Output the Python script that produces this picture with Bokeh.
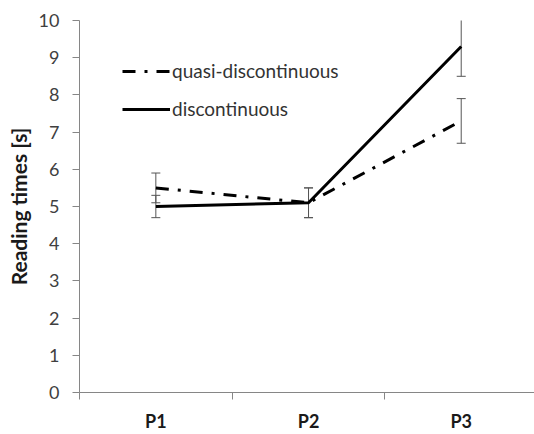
from bokeh.plotting import figure
from bokeh.models import (Range1d, FixedTicker, Whisker, TeeHead, ColumnDataSource,
                          Legend, LegendItem)
from bokeh.embed import file_html
from bokeh.resources import INLINE

categories = ["P1", "P2", "P3"]
quasi = [5.5, 5.1, 7.3]
quasi_err = [0.4, 0.4, 0.6]
disc = [5.0, 5.1, 9.3]
disc_err = [0.3, 0.4, 0.8]
y_ticks = list(range(0, 11))

xs = [i + 0.5 for i in range(len(categories))]

FONT = "Lato"
AXIS_GRAY = "#868686"

p = figure(width=534, height=434, output_backend="svg", toolbar_location=None,
           x_range=Range1d(0, 2.98), y_range=Range1d(0, 10),
           min_border_left=79, min_border_right=0, min_border_top=20, min_border_bottom=41)
p.outline_line_color = None
p.xgrid.visible = False
p.ygrid.visible = False
p.background_fill_color = "white"
p.border_fill_color = "white"

# error bars
for vals, errs in ((quasi, quasi_err), (disc, disc_err)):
    src = ColumnDataSource(dict(x=xs,
                                upper=[v + e for v, e in zip(vals, errs)],
                                lower=[v - e for v, e in zip(vals, errs)]))
    w = Whisker(base="x", upper="upper", lower="lower", source=src,
                line_color="#555555", line_width=1,
                upper_head=TeeHead(size=9, line_color="#555555", line_width=1),
                lower_head=TeeHead(size=9, line_color="#555555", line_width=1),
                level="underlay")
    p.add_layout(w)

r_q = p.line(xs, quasi, line_color="black", line_width=3, line_dash="13 9 3 9")
r_d = p.line(xs, disc, line_color="black", line_width=3)

legend = Legend(items=[LegendItem(label="quasi-discontinuous", renderers=[r_q]),
                       LegendItem(label="discontinuous", renderers=[r_d])],
                location=(43, 272), glyph_width=48, glyph_height=20, label_height=20,
                spacing=15, padding=0, margin=0, label_standoff=2,
                border_line_alpha=0, background_fill_alpha=0,
                label_text_font=FONT, label_text_font_size="19px",
                label_text_color="#333333")
p.add_layout(legend)

# y axis
ya = p.yaxis[0]
ya.ticker = FixedTicker(ticks=y_ticks)
ya.axis_line_color = AXIS_GRAY
ya.major_tick_line_color = AXIS_GRAY
ya.major_tick_out = 7
ya.major_tick_in = 0
ya.minor_tick_line_color = None
ya.major_label_standoff = 13
ya.major_label_text_font = FONT
ya.major_label_text_font_size = "18px"
ya.major_label_text_color = "#404040"
ya.axis_label = "Reading times [s]"
ya.axis_label_text_font = FONT
ya.axis_label_text_font_style = "bold"
ya.axis_label_text_font_size = "21px"
ya.axis_label_text_color = "#1a1a1a"
ya.axis_label_standoff = 5

# x axis
xa = p.xaxis[0]
xa.ticker = FixedTicker(ticks=xs, minor_ticks=[0, 1, 2, 3])
xa.axis_line_color = AXIS_GRAY
xa.major_tick_line_color = None
xa.major_tick_out = 0
xa.major_tick_in = 0
xa.minor_tick_line_color = AXIS_GRAY
xa.minor_tick_out = 7
xa.minor_tick_in = 0
xa.major_label_overrides = {x: c for x, c in zip(xs, categories)}
xa.major_label_standoff = 10
xa.major_label_text_font = FONT
xa.major_label_text_font_style = "bold"
xa.major_label_text_font_size = "18px"
xa.major_label_text_color = "#1a1a1a"

open("out.html", "w").write(file_html(p, INLINE))
